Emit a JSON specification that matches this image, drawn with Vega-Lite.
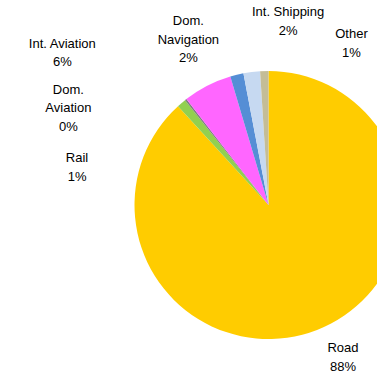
{
  "$schema": "https://vega.github.io/schema/vega-lite/v6.json",
  "autosize": "none",
  "padding": 0,
  "width": 537,
  "height": 410,
  "background": "white",
  "view": {"stroke": null},
  "config": {"text": {"font": "Liberation Sans", "fontSize": 13, "lineHeight": 18.7, "color": "#000000", "lineBreak": "\n", "align": "center", "baseline": "middle"}},
  "data": {"values": [
    {"order": 1, "category": "Road", "value": 88.2, "label": "Road\n88%"},
    {"order": 2, "category": "Rail", "value": 1.1, "label": "Rail\n1%"},
    {"order": 3, "category": "Dom. Aviation", "value": 0.2, "label": "Dom.\nAviation\n0%"},
    {"order": 4, "category": "Int. Aviation", "value": 5.9, "label": "Int. Aviation\n6%"},
    {"order": 5, "category": "Dom. Navigation", "value": 1.6, "label": "Dom.\nNavigation\n2%"},
    {"order": 6, "category": "Int. Shipping", "value": 2.0, "label": "Int. Shipping\n2%"},
    {"order": 7, "category": "Other", "value": 1.0, "label": "Other\n1%"}
  ]},
  "transform": [
    {"stack": "value", "groupby": [], "sort": [{"field": "order", "order": "ascending"}], "as": ["v0", "v1"]}
  ],
  "layer": [
    {
      "mark": {"type": "arc", "radius": 134, "stroke": null},
      "encoding": {
        "theta": {"field": "value", "type": "quantitative", "stack": true, "scale": {"domain": [0, 100]}},
        "order": {"field": "order", "type": "quantitative"},
        "color": {
          "field": "category", "type": "nominal", "legend": null,
          "scale": {
            "domain": ["Road", "Rail", "Dom. Aviation", "Int. Aviation", "Dom. Navigation", "Int. Shipping", "Other"],
            "range": ["#FFCC00", "#92D050", "#7F7F7F", "#FF66FF", "#558ED5", "#C6D9F1", "#C4BD97"]
          }
        }
      }
    },
    {
      "transform": [{"filter": "datum.category === 'Road'"}],
      "mark": {"type": "text", "radius": 134, "dx": 165, "dy": 242},
      "encoding": {"theta": {"field": "v1", "type": "quantitative"}, "text": {"field": "label"}}
    },
    {
      "transform": [{"filter": "datum.category === 'Rail'"}],
      "mark": {"type": "text", "radius": 134, "dx": -108, "dy": 58},
      "encoding": {"theta": {"field": "v1", "type": "quantitative"}, "text": {"field": "label"}}
    },
    {
      "transform": [{"filter": "datum.category === 'Dom. Aviation'"}],
      "mark": {"type": "text", "radius": 134, "dx": -118, "dy": -9.5},
      "encoding": {"theta": {"field": "v1", "type": "quantitative"}, "text": {"field": "label"}}
    },
    {
      "transform": [{"filter": "datum.category === 'Int. Aviation'"}],
      "mark": {"type": "text", "radius": 134, "dx": -168, "dy": -33},
      "encoding": {"theta": {"field": "v1", "type": "quantitative"}, "text": {"field": "label"}}
    },
    {
      "transform": [{"filter": "datum.category === 'Dom. Navigation'"}],
      "mark": {"type": "text", "radius": 134, "dx": -55, "dy": -52.5},
      "encoding": {"theta": {"field": "v1", "type": "quantitative"}, "text": {"field": "label"}}
    },
    {
      "transform": [{"filter": "datum.category === 'Int. Shipping'"}],
      "mark": {"type": "text", "radius": 134, "dx": 28, "dy": -59},
      "encoding": {"theta": {"field": "v1", "type": "quantitative"}, "text": {"field": "label"}}
    },
    {
      "transform": [{"filter": "datum.category === 'Other'"}],
      "mark": {"type": "text", "radius": 134, "dx": 83, "dy": -37},
      "encoding": {"theta": {"field": "v1", "type": "quantitative"}, "text": {"field": "label"}}
    }
  ]
}
